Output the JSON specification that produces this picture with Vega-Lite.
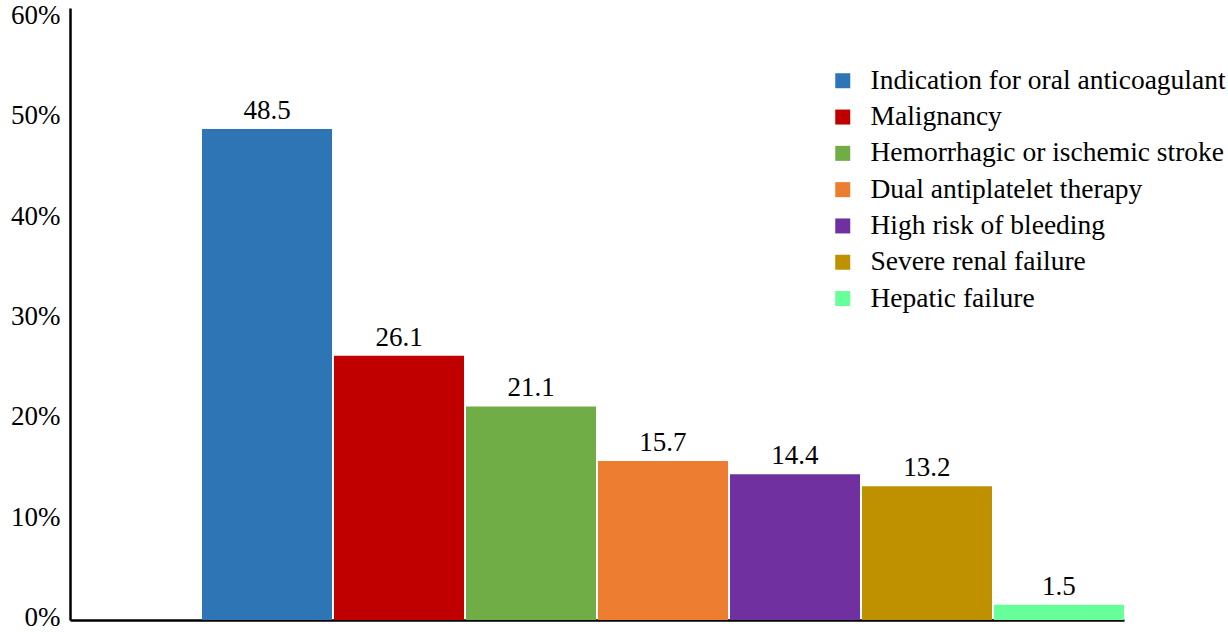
{
  "$schema": "https://vega.github.io/schema/vega-lite/v6.json",
  "width": 1054,
  "height": 612,
  "autosize": {"type": "none"},
  "padding": {"left": 70, "top": 8, "right": 104, "bottom": 12},
  "background": "white",
  "config": {
    "view": {"stroke": null},
    "font": "Times New Roman, Liberation Serif, serif",
    "axis": {"grid": false, "domainColor": "black", "domainWidth": 2.5, "ticks": false, "labelFont": "Times New Roman, Liberation Serif, serif", "labelFontSize": 27, "labelColor": "black"}
  },
  "data": {
    "values": [
      {"reason": "Indication for oral anticoagulant", "pct": 48.5},
      {"reason": "Malignancy", "pct": 26.1},
      {"reason": "Hemorrhagic or ischemic stroke", "pct": 21.1},
      {"reason": "Dual antiplatelet therapy", "pct": 15.7},
      {"reason": "High risk of bleeding", "pct": 14.4},
      {"reason": "Severe renal failure", "pct": 13.2},
      {"reason": "Hepatic failure", "pct": 1.5}
    ]
  },
  "encoding": {
    "x": {
      "field": "reason",
      "type": "nominal",
      "sort": null,
      "scale": {
        "domain": [" ", "Indication for oral anticoagulant", "Malignancy", "Hemorrhagic or ischemic stroke", "Dual antiplatelet therapy", "High risk of bleeding", "Severe renal failure", "Hepatic failure"],
        "paddingInner": 0.015,
        "paddingOuter": 0
      },
      "axis": {"title": null, "labels": false, "ticks": false}
    },
    "y": {
      "field": "pct",
      "type": "quantitative",
      "scale": {"domain": [0, 60.45], "nice": false},
      "axis": {"title": null, "values": [0, 10, 20, 30, 40, 50, 60], "labelExpr": "datum.value + '%'", "labelPadding": 10, "labelOffset": {"expr": "-2.5 + datum.value * 0.0917"}}
    }
  },
  "layer": [
    {
      "mark": {"type": "bar"},
      "encoding": {
        "color": {
          "field": "reason",
          "type": "nominal",
          "sort": null,
          "scale": {
            "domain": ["Indication for oral anticoagulant", "Malignancy", "Hemorrhagic or ischemic stroke", "Dual antiplatelet therapy", "High risk of bleeding", "Severe renal failure", "Hepatic failure"],
            "range": ["#2E75B6", "#C00000", "#70AD47", "#ED7D31", "#7030A0", "#BF9000", "#66FF99"]
          },
          "legend": {
            "title": null,
            "orient": "none",
            "legendX": 759,
            "legendY": 59,
            "symbolType": "square",
            "symbolSize": 225,
            "symbolStrokeWidth": 0,
            "labelFont": "Times New Roman, Liberation Serif, serif",
            "labelFontSize": 27.5,
            "labelColor": "black",
            "labelOffset": 14,
            "rowPadding": 7.3,
            "labelLimit": 500
          }
        }
      }
    },
    {
      "mark": {"type": "text", "baseline": "alphabetic", "dy": -10, "fontSize": 27, "font": "Times New Roman, Liberation Serif, serif", "color": "black"},
      "encoding": {
        "text": {"field": "pct", "type": "quantitative", "format": ".1f"}
      }
    }
  ]
}
